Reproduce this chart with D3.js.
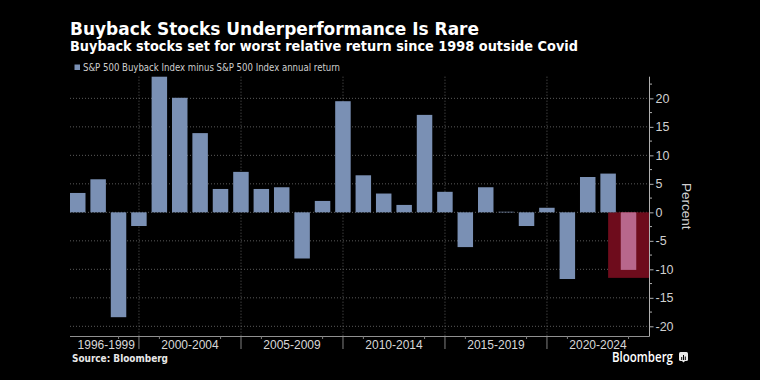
<!DOCTYPE html>
<html><head><meta charset="utf-8">
<script src="https://cdn.jsdelivr.net/npm/d3@7"></script>
<style>html,body{margin:0;background:#000;}svg{display:block;}</style>
</head><body><svg id="c" width="760" height="380"></svg>
<script>
const years = [1996,1997,1998,1999,2000,2001,2002,2003,2004,2005,2006,2007,2008,2009,2010,2011,2012,2013,2014,2015,2016,2017,2018,2019,2020,2021,2022,2023];
const values = [3.4,5.8,-18.4,-2.4,23.8,20.1,13.9,4.1,7.1,4.1,4.4,-8.1,2.0,19.5,6.5,3.3,1.3,17.1,3.6,-6.1,4.4,0.1,-2.4,0.8,-11.7,6.2,6.8,-10.1];
const highlightYear = 2023;
const highlightBoxFromYear = 2022;
const highlightBoxValue = -11.5;
const groupLabels = ["1996-1999","2000-2004","2005-2009","2010-2014","2015-2019","2020-2024"];
const groupStarts = [1996,2000,2005,2010,2015,2020];
const yTicks = [-20,-15,-10,-5,0,5,10,15,20];
const yMinorTicks = [-22.5,-17.5,-12.5,-7.5,-2.5,2.5,7.5,12.5,17.5,22.5];
const titleText = "Buyback Stocks Underperformance Is Rare";
const subtitleText = "Buyback stocks set for worst relative return since 1998 outside Covid";
const legendText = "S&P 500 Buyback Index minus S&P 500 Index annual return";

const svg = d3.select("#c");
const L = 70, R = 649, T = 76.7, B = 336;
const yearEnd = y => new Date(y, 11, 31);
const barFrac = 0.76;
const yearMs = 365.25*24*3600*1000;
const x = d3.scaleTime()
  .domain([new Date(+yearEnd(years[0]) - barFrac/2*yearMs), new Date(2025,0,1)])
  .range([L, R]);
const y = d3.scaleLinear().domain([-21.7, 23.8]).range([B, T]);
const bw = barFrac * (x(yearEnd(2001)) - x(yearEnd(2000)));

svg.append("rect").attr("width",760).attr("height",380).attr("fill","#000");

// title
svg.append("text").attr("x",70).attr("y",35).attr("fill","#fff")
  .attr("font-family","DejaVu Sans").attr("font-weight","bold").attr("font-size",18.5)
  .attr("textLength",409).attr("lengthAdjust","spacingAndGlyphs").text(titleText);
svg.append("text").attr("x",70).attr("y",51).attr("fill","#fff")
  .attr("font-family","DejaVu Sans").attr("font-weight","bold").attr("font-size",14.5)
  .attr("textLength",508).attr("lengthAdjust","spacingAndGlyphs").text(subtitleText);

// legend
svg.append("rect").attr("x",74.5).attr("y",64.5).attr("width",5.5).attr("height",5.5).attr("fill","#7a90b4");
svg.append("text").attr("x",83).attr("y",71).attr("fill","#cfcfcf")
  .attr("font-family","DejaVu Sans").attr("font-size",10.5)
  .attr("textLength",257).attr("lengthAdjust","spacingAndGlyphs").text(legendText);

// horizontal grid
svg.append("g").selectAll("line").data(yTicks).join("line")
  .attr("x1",L).attr("x2",R).attr("y1",d=>y(d)).attr("y2",d=>y(d))
  .attr("stroke","#5a5a5a").attr("stroke-width",1).attr("stroke-dasharray","1,2");

// vertical grid at group boundaries
const bounds = groupStarts.slice(1);
svg.append("g").selectAll("line").data(bounds).join("line")
  .attr("x1",d=>x(new Date(d,0,1))).attr("x2",d=>x(new Date(d,0,1)))
  .attr("y1",T).attr("y2",B)
  .attr("stroke","#5a5a5a").attr("stroke-dasharray","1,2");
svg.append("g").selectAll("line").data(bounds).join("line")
  .attr("x1",d=>x(new Date(d,0,1))).attr("x2",d=>x(new Date(d,0,1)))
  .attr("y1",B).attr("y2",B+13)
  .attr("stroke","#808080");

// highlight box
svg.append("rect")
  .attr("x",x(yearEnd(highlightBoxFromYear))).attr("y",y(0))
  .attr("width",R - x(yearEnd(highlightBoxFromYear)))
  .attr("height",y(highlightBoxValue)-y(0))
  .attr("fill","#6e0c1c");

// bars
svg.append("g").selectAll("rect").data(years.map((yr,i)=>({yr,v:values[i]}))).join("rect")
  .attr("x",d=>x(yearEnd(d.yr))-bw/2).attr("width",bw)
  .attr("y",d=>y(Math.max(0,d.v))).attr("height",d=>Math.max(0.6,Math.abs(y(d.v)-y(0))))
  .attr("fill",d=>d.yr===highlightYear?"#b8678c":"#7a90b4");

// axes lines
svg.append("line").attr("x1",R+0.5).attr("x2",R+0.5).attr("y1",T).attr("y2",B+0.5).attr("stroke","#b0b0b0");
svg.append("line").attr("x1",L).attr("x2",R+0.5).attr("y1",B+0.5).attr("y2",B+0.5).attr("stroke","#909090");

// y axis
const yAxis = svg.append("g").attr("transform",`translate(${R+0.5},0)`)
  .call(d3.axisRight(y).tickValues(yTicks).tickSize(4).tickPadding(2).tickFormat(d=>String(d)));
yAxis.select(".domain").remove();
yAxis.selectAll("line").attr("stroke","#b0b0b0");
yAxis.selectAll("text").attr("fill","#d0d0d0").attr("font-family","Liberation Sans").attr("font-size",12.5);
svg.append("g").selectAll("line").data(yMinorTicks.filter(v=>v>=-21.7&&v<=23.8)).join("line")
  .attr("x1",R+0.5).attr("x2",R+3).attr("y1",d=>y(d)).attr("y2",d=>y(d)).attr("stroke","#b0b0b0");

// y title
svg.append("text").attr("transform",`translate(682,${(T+B)/2}) rotate(90)`)
  .attr("text-anchor","middle").attr("fill","#d0d0d0")
  .attr("font-family","Liberation Sans").attr("font-size",13.5).text("Percent");

// x minor ticks
const minorYears = d3.range(1996,2025).filter(v=>v%5===1||v%5===4);
svg.append("g").selectAll("line").data(minorYears.filter(v=>x(new Date(v,0,1))>L)).join("line")
  .attr("x1",d=>x(new Date(d,0,1))).attr("x2",d=>x(new Date(d,0,1)))
  .attr("y1",B).attr("y2",B+3).attr("stroke","#808080");

// group labels
svg.append("g").selectAll("text").data(groupLabels.map((g,i)=>({g,s:groupStarts[i],e:(groupStarts[i+1]||2025)}))).join("text")
  .attr("x",d=>{const a=x(new Date(d.s,0,1)), b=x(new Date(d.e,0,1)); return a<L ? b-4 : (a+b)/2;})
  .attr("text-anchor",d=>x(new Date(d.s,0,1))<L?"end":"middle")
  .attr("y",B+13).attr("fill","#d8d8d8").attr("font-family","Liberation Sans").attr("font-size",12)
  .text(d=>d.g);

// source
svg.append("text").attr("x",72).attr("y",362).attr("fill","#e8e8e8")
  .attr("font-family","DejaVu Sans").attr("font-weight","bold").attr("font-size",10)
  .attr("textLength",96).attr("lengthAdjust","spacingAndGlyphs").text("Source: Bloomberg");

// logo
svg.append("text").attr("x",612).attr("y",362).attr("fill","#fff")
  .attr("font-family","Open Sans").attr("font-weight","600").attr("font-size",14)
  .attr("textLength",61).attr("lengthAdjust","spacingAndGlyphs").text("Bloomberg");
const lg = svg.append("g").attr("transform","translate(679,352)");
lg.append("rect").attr("width",9).attr("height",9).attr("rx",1.5).attr("fill","#e8e8e8");
lg.append("path").attr("d","M3,9 L4.5,10.5 L6,9 Z").attr("fill","#e8e8e8");
[[2.2,5,1],[4,3,1],[5.8,4.5,1]].forEach(([bx,by,w])=>lg.append("rect").attr("x",bx).attr("y",by).attr("width",w).attr("height",8-by).attr("fill","#000"));
</script></body></html>
